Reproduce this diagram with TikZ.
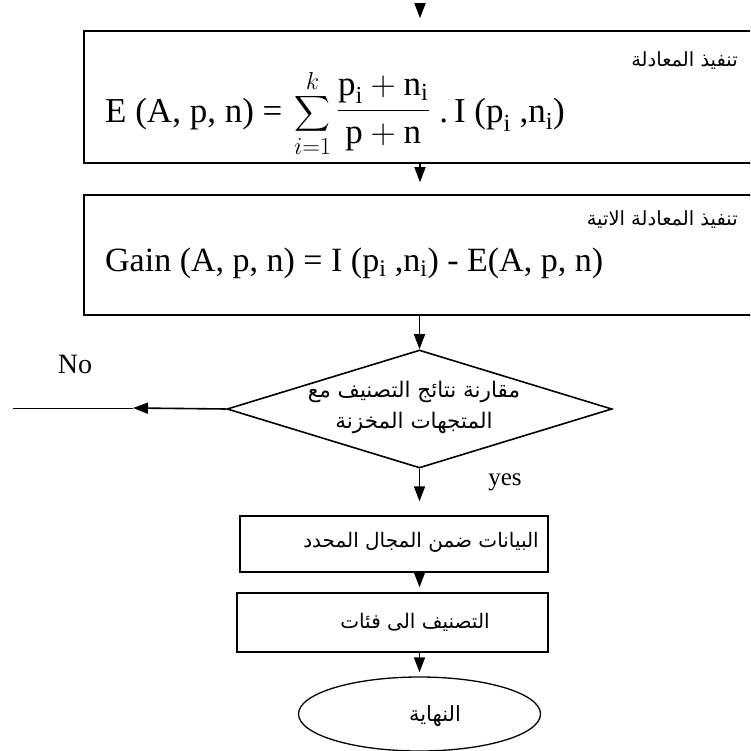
\RequirePackage{fix-cm}
\documentclass[tikz,border=0pt]{standalone}
\usepackage{fontspec}
\usepackage{amsmath}
\setmainfont{Liberation Serif}
\newfontfamily\arabicfont[Script=Arabic]{DejaVu Sans}
\TeXXeTstate=1
\usetikzlibrary{shapes.geometric,arrows.meta}
\newcommand\rmt[1]{\textrm{#1}}
\newcommand\eqone{{\fontsize{35}{40}\selectfont
  $\displaystyle \rmt{E (A, p, n) =}\, \sum_{i=1}^{k}
  \raisebox{4pt}{$\displaystyle\frac{\rmt{p}_{\rmt{i}} + \rmt{n}_{\rmt{i}}}{\rmt{p} + \rmt{n}}$}\;\rmt{.\,I (p}_{\rmt{i}}\rmt{ ,n}_{\rmt{i}}\rmt{)}$}}
\newcommand\eqtwo{{\fontsize{34}{38}\selectfont
  Gain (A, p, n) = I (p\textsubscript{i} ,n\textsubscript{i}) - E(A, p, n)}}
\newcommand\dtxt{\beginR مقارنة نتائج التصنيف مع\endR\\\beginR المتجهات المخزنة\endR}
\begin{document}
\begin{tikzpicture}[x=1pt,y=-1pt,
  bigbox/.style={draw, line width=1.6pt, inner sep=0pt, minimum width=671pt},
  smallbox/.style={draw, line width=1.3pt, inner sep=0pt},
  arr/.style={-{Triangle[length=15pt,width=11pt]}, line width=1.6pt},
  ar/.style={font=\arabicfont\fontsize{19.5}{23}\selectfont, inner sep=0pt},
  arbig/.style={font=\arabicfont\fontsize{21.5}{31}\selectfont, inner sep=0pt, align=center},
  lat/.style={inner sep=0pt}]
\clip (0,0) rectangle (750,751);
% boxes
\node[bigbox, minimum height=132pt] (box1) at (419.5,97) {};
\node[bigbox, minimum height=120pt] (box2) at (419.5,255) {};
\node[diamond, draw, line width=1.6pt, inner sep=0pt, aspect=3.26,
      minimum width=385pt, minimum height=118pt] (diam) at (419.5,409) {};
\node[smallbox, minimum width=308pt, minimum height=56pt] (box3) at (394,544) {};
\node[smallbox, minimum width=311pt, minimum height=59pt] (box4) at (392.5,622.5) {};
\node[ellipse, draw, line width=1.3pt, inner sep=0pt, minimum width=242pt,
      minimum height=74pt] (endn) at (419.5,714) {};
% texts
\node[ar, anchor=east] (t1) at (738,61) {\beginR تنفيذ المعادلة\endR};
\node[lat, anchor=base west] (eq1) at (105,123) {\eqone};
\node[ar, anchor=east] (t2) at (738,220) {\beginR تنفيذ المعادلة الاتية\endR};
\node[lat, anchor=base west] (eq2) at (105,271) {\eqtwo};
\node[arbig] (dtext) at (414,407) {\dtxt};
\node[ar, font=\arabicfont\fontsize{20}{24}\selectfont] (t3) at (421,542) {\beginR البيانات ضمن المجال المحدد\endR};
\node[ar, font=\arabicfont\fontsize{20}{24}\selectfont] (t4) at (415,622) {\beginR التصنيف الى فئات\endR};
\node[ar, font=\arabicfont\fontsize{21}{26}\selectfont] (t5) at (435,716) {\beginR النهاية\endR};
\node[lat, font=\fontsize{28}{30}\selectfont] (no) at (75,364) {No};
\node[lat, font=\fontsize{25}{28}\selectfont] (yes) at (505,482) {yes};
% connectors
\coordinate (top) at (420,4);
\coordinate (noend) at (133,408);
\coordinate (noleft) at (13,408);
\draw[arr, shorten >=12pt] (top) -- (box1.north -| top);
\draw[arr, shorten >=12pt] (box1.south -| top) -- (box2.north -| top);
\draw[arr] (box2.south -| diam.north) -- (diam.north);
\draw[arr, shorten >=14pt] (diam.south) -- (box3.north -| diam.south);
\draw[arr, shorten >=5pt] (box3.south -| diam.south) -- (box4.north -| diam.south);
\draw[arr, shorten >=4pt] (box4.south -| diam.south) -- (endn.north);
\draw[arr] (diam.west) -- (noend);
\draw[line width=0.8pt] (noend) -- (noleft);
\end{tikzpicture}
\end{document}
